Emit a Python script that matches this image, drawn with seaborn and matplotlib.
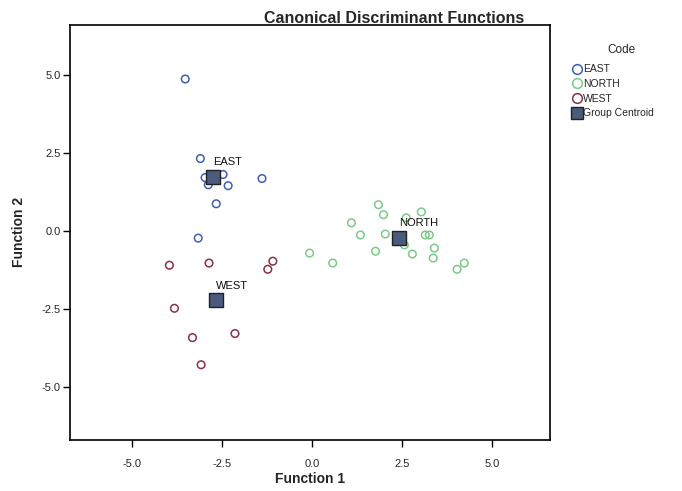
import matplotlib
matplotlib.use("Agg")
import matplotlib.pyplot as plt
import seaborn as sns
import pandas as pd
from matplotlib.lines import Line2D

sns.set_theme(style="white")
plt.rcParams['font.family'] = ['Liberation Sans', 'DejaVu Sans']

east_x = [-3.51, -3.09, -2.96, -2.87, -2.46, -2.32, -1.38, -2.65, -3.15]
east_y = [4.87, 2.32, 1.71, 1.48, 1.81, 1.45, 1.68, 0.87, -0.23]
north_x = [1.85, 1.99, 3.04, 2.62, 1.10, 1.35, 2.04, 3.15, 3.26, 3.40, 2.57, 2.79, 1.77, -0.06, 0.58, 3.37, 4.23, 4.03]
north_y = [0.84, 0.52, 0.61, 0.42, 0.26, -0.13, -0.10, -0.13, -0.13, -0.55, -0.45, -0.74, -0.65, -0.71, -1.03, -0.87, -1.03, -1.23]
west_x = [-3.95, -2.85, -1.08, -1.22, -3.81, -3.31, -2.13, -3.07]
west_y = [-1.10, -1.03, -0.97, -1.23, -2.48, -3.42, -3.29, -4.29]
groups = ["EAST", "NORTH", "WEST"]
centroid_x = [-2.73, 2.43, -2.65]
centroid_y = [1.74, -0.23, -2.23]
tick_vals = [-5.0, -2.5, 0.0, 2.5, 5.0]

colors = {"EAST": "#3e5fae", "NORTH": "#7cc98a", "WEST": "#8b3045"}

df = pd.DataFrame({
    "x": east_x + north_x + west_x,
    "y": east_y + north_y + west_y,
    "Code": ["EAST"] * len(east_x) + ["NORTH"] * len(north_x) + ["WEST"] * len(west_x),
})
cen = pd.DataFrame({"x": centroid_x, "y": centroid_y, "Code": groups})

fig = plt.figure(figsize=(6.82, 4.91), dpi=100)
ax = fig.add_axes([0.103, 0.104, 0.703, 0.845])

for g in groups:
    sub = df[df["Code"] == g]
    sns.scatterplot(data=sub, x="x", y="y", ax=ax, s=30, color=colors[g], legend=False)
    coll = ax.collections[-1]
    coll.set_facecolor("none")
    coll.set_edgecolor(colors[g])
    coll.set_linewidth(1.1)

sns.scatterplot(data=cen, x="x", y="y", ax=ax, marker="s", s=110,
                color="#4a5b7c", edgecolor="#222222", linewidth=1.0, legend=False, zorder=5)
for _, r in cen.iterrows():
    ax.text(r["x"] + 0.0, r["y"] + 0.32, r["Code"], fontsize=8, ha="left", va="bottom", color="#111111")

ax.set_xlim(-6.7, 6.6)
ax.set_ylim(-6.7, 6.6)
ax.set_xticks(tick_vals)
ax.set_yticks(tick_vals)
ax.set_xticklabels([f"{v:.1f}" for v in tick_vals], fontsize=8)
ax.set_yticklabels([f"{v:.1f}" for v in tick_vals], fontsize=8)
ax.tick_params(axis="both", direction="out", length=5, width=1, color="black", bottom=True, left=True)
ax.tick_params(axis="x", pad=9)
ax.tick_params(axis="y", pad=2)
for sp in ax.spines.values():
    sp.set_color("black")
    sp.set_linewidth(1.2)
ax.set_xlabel("Function 1", fontsize=10, fontweight="bold", labelpad=2)
ax.set_ylabel("Function 2", fontsize=10, fontweight="bold", labelpad=11)
fig.text(0.578, 0.963, "Canonical Discriminant Functions", fontsize=11.5, fontweight="bold",
         ha="center", va="center")

handles = [Line2D([], [], marker="o", linestyle="none", markerfacecolor="none",
                  markeredgecolor=colors[g], markersize=7, markeredgewidth=1.1) for g in groups]
handles.append(Line2D([], [], marker="s", linestyle="none", markerfacecolor="#4a5b7c",
                      markeredgecolor="#222222", markersize=8))
leg = fig.legend(handles, groups + ["Group Centroid"], title="Code", loc="upper left",
                 bbox_to_anchor=(0.828, 0.918), frameon=False, fontsize=7.5, title_fontsize=8.5,
                 handletextpad=0.1, labelspacing=0.45, handlelength=1.0, borderpad=0.2)
leg.get_title().set_position((8, 4))

fig.savefig("out.png", dpi=100)
